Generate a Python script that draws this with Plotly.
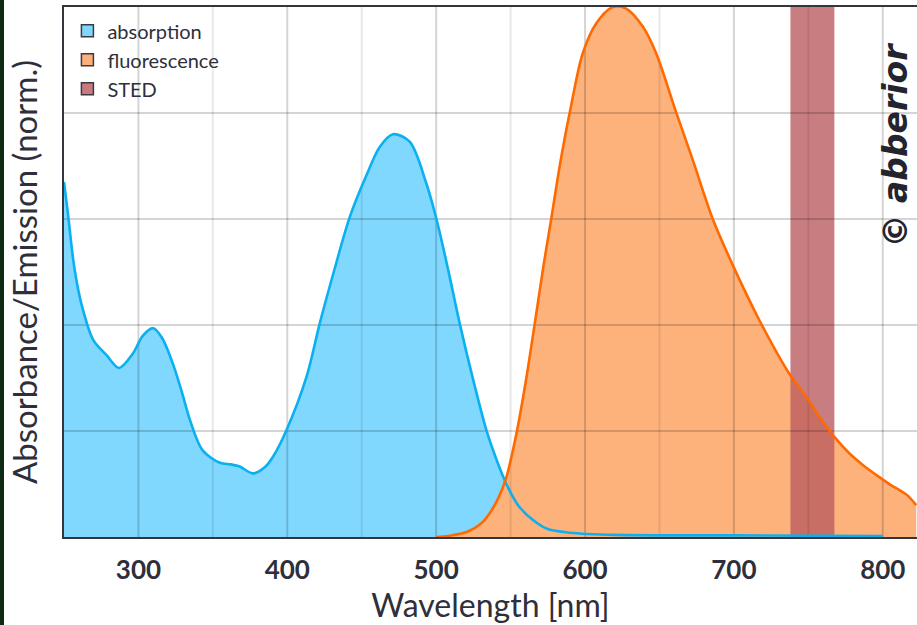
import plotly.graph_objects as go

# ---------------- data ----------------
abs_wl = [250, 252.9, 256.2, 259.6, 262.8, 269.6, 278.6, 287, 296, 303, 310, 316, 323, 329, 334.6,
          343, 354.7, 362, 368, 377, 385, 390.5, 399.5, 412.9, 421.8, 432, 442, 453.1, 462.1, 471,
          482.2, 493.4, 500.1, 508, 515.8, 525, 533.7, 540, 547, 555, 565, 575, 590, 620, 700, 800]
abs_val = [0.670, 0.604, 0.523, 0.466, 0.428, 0.372, 0.343, 0.319, 0.345, 0.380, 0.394, 0.375, 0.328,
           0.275, 0.221, 0.164, 0.140, 0.137, 0.133, 0.120, 0.132, 0.152, 0.202, 0.302, 0.403, 0.508,
           0.604, 0.682, 0.736, 0.760, 0.746, 0.667, 0.601, 0.505, 0.403, 0.295, 0.202, 0.150, 0.101,
           0.060, 0.032, 0.015, 0.008, 0.004, 0.003, 0.002]

fl_wl = [500, 510, 521, 530, 536, 542, 547, 554, 560, 566.1, 572, 577.3, 583, 589.6, 598.5, 607.5,
         618.7, 627.6, 638.8, 647.7, 661.1, 672.3, 685.8, 698.1, 717.1, 737, 748.7, 757.4, 767.5,
         777.5, 787, 797.7, 806, 811, 816.4, 822.5]
fl_val = [0.0, 0.003, 0.010, 0.025, 0.045, 0.075, 0.111, 0.196, 0.290, 0.400, 0.510, 0.600, 0.700,
          0.799, 0.913, 0.969, 1.0, 0.997, 0.963, 0.913, 0.802, 0.712, 0.600, 0.520, 0.409, 0.309,
          0.264, 0.227, 0.189, 0.158, 0.135, 0.113, 0.097, 0.089, 0.079, 0.060]

sted_range = [738, 767.5]
sted_level = 1.0

series_names = ["absorption", "fluorescence", "STED"]
x_ticks = [300, 400, 500, 600, 700, 800]
x_minor = [350, 450, 550, 650, 750]
y_grid = [0.2, 0.4, 0.6, 0.8]
x_range = [250, 823]
y_range = [0, 1]

# ---------------- styles ----------------
BLUE_LINE = "#0ab0f0"
BLUE_FILL = "#80d8fe"
OR_LINE = "#ff6a00"
OR_FILL = "#fdb27b"
STED_FILL = "rgba(186,92,96,0.8)"
TXT = "#2e2f3a"
GRID = "rgba(0,0,0,0.17)"
GRID_MINOR = "rgba(0,0,0,0.09)"

fig = go.Figure()

# fills
fig.add_trace(go.Scatter(x=abs_wl, y=abs_val, mode="none", line=dict(shape="spline", smoothing=0.9),
                         fill="tozeroy", fillcolor=BLUE_FILL, showlegend=False, hoverinfo="skip"))
fig.add_trace(go.Scatter(x=fl_wl, y=fl_val, mode="none", line=dict(shape="spline", smoothing=0.9),
                         fill="tozeroy", fillcolor=OR_FILL, showlegend=False, hoverinfo="skip"))
# STED band
fig.add_trace(go.Scatter(x=[sted_range[0], sted_range[0], sted_range[1], sted_range[1]],
                         y=[0, sted_level, sted_level, 0], mode="none", fill="toself",
                         fillcolor=STED_FILL, showlegend=False, hoverinfo="skip"))


# grid lines (drawn above fills, below curves)
def vlines(xs):
    xx, yy = [], []
    for v in xs:
        xx += [v, v, None]
        yy += [y_range[0], y_range[1], None]
    return xx, yy


def hlines(ys):
    xx, yy = [], []
    for v in ys:
        xx += [x_range[0], x_range[1], None]
        yy += [v, v, None]
    return xx, yy


gx, gy = vlines(x_minor)
fig.add_trace(go.Scatter(x=gx, y=gy, mode="lines", line=dict(color=GRID_MINOR, width=2),
                         showlegend=False, hoverinfo="skip"))
gx, gy = vlines(x_ticks)
fig.add_trace(go.Scatter(x=gx, y=gy, mode="lines", line=dict(color=GRID, width=2),
                         showlegend=False, hoverinfo="skip"))
gx, gy = hlines(y_grid)
fig.add_trace(go.Scatter(x=gx, y=gy, mode="lines", line=dict(color=GRID, width=2),
                         showlegend=False, hoverinfo="skip"))

# curves
fig.add_trace(go.Scatter(x=abs_wl, y=abs_val, mode="lines",
                         line=dict(color=BLUE_LINE, width=2.6, shape="spline", smoothing=0.9),
                         showlegend=False, hoverinfo="skip"))
fig.add_trace(go.Scatter(x=fl_wl, y=fl_val, mode="lines",
                         line=dict(color=OR_LINE, width=2.6, shape="spline", smoothing=0.9),
                         showlegend=False, hoverinfo="skip"))

# legend-only entries
for name, col in zip(series_names, ["#80d6fd", "#fdb07a", "#c97a7e"]):
    fig.add_trace(go.Bar(x=[None], y=[None], name=name,
                         marker=dict(color=col, line=dict(color="#3a3a44", width=1.5))))

fig.update_layout(
    width=917, height=625,
    margin=dict(l=64, r=0, t=7, b=88),
    paper_bgcolor="white", plot_bgcolor="white",
    font=dict(family="Lato", color=TXT),
    legend=dict(x=0.004, y=0.992, xanchor="left", yanchor="top", bgcolor="rgba(0,0,0,0)",
                font=dict(size=20, family="Lato", color=TXT), tracegroupgap=0, itemwidth=30),
    xaxis=dict(range=x_range, tickvals=x_ticks, ticktext=[str(t) for t in x_ticks],
               showgrid=False,
               showline=True, linecolor="#33363d", linewidth=2, mirror=True,
               ticks="outside", ticklen=9, tickcolor="rgba(0,0,0,0)",
               tickfont=dict(size=26, family="Lato", weight="bold", color=TXT),
               title=dict(text="Wavelength [nm]", font=dict(size=32, family="Lato", color=TXT), standoff=8),
               zeroline=False),
    yaxis=dict(range=y_range, showticklabels=False, showgrid=False,
               showline=True, linecolor="#33363d", linewidth=2,
               title=dict(text="Absorbance/Emission (norm.)", font=dict(size=33, family="Lato", color=TXT), standoff=14),
               zeroline=False),
)

fig.add_annotation(text="© abberior", xref="paper", yref="paper", x=0.975, y=0.74,
                   xanchor="center", yanchor="middle",
                   textangle=-90, showarrow=False,
                   font=dict(family="DejaVu Sans", size=33, weight="bold", style="italic", color="#23242e"))

# dark left edge strip
fig.add_shape(type="rect", xref="paper", yref="paper", x0=-64/853, x1=-60/853, y0=-88/530, y1=1+7/530,
              fillcolor="#0f2a12", line=dict(width=0), layer="above")

fig.write_html("out.html")
